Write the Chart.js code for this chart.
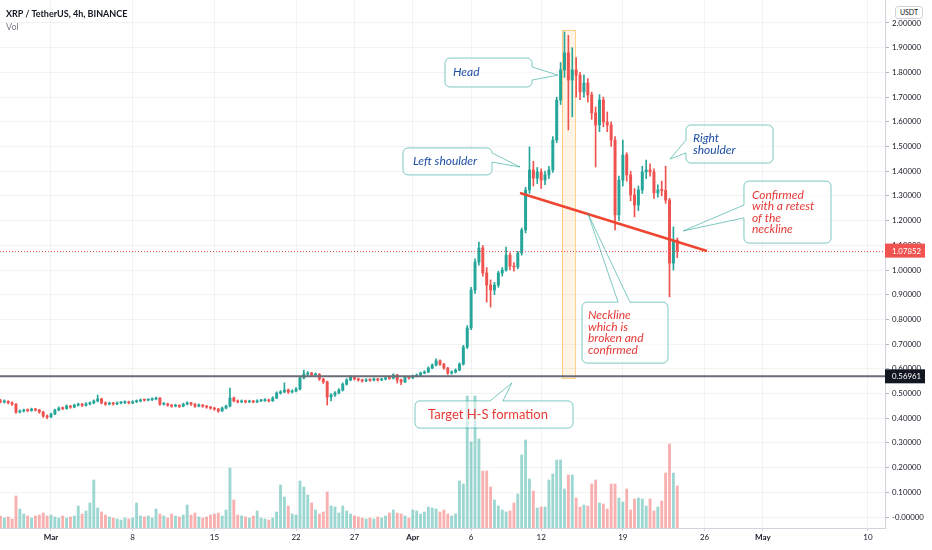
<!DOCTYPE html>
<html>
<head>
<meta charset="utf-8">
<title>XRP / TetherUS 4h</title>
<script src="https://cdn.jsdelivr.net/npm/chart.js@4.4.1/dist/chart.umd.min.js"></script>
<style>
    body { margin: 0; background: #fff; }
    #wrap { position: relative; width: 932px; height: 550px; }
    #title { position: absolute; left: 6px; top: 8px; font: bold 9px Lato, sans-serif; color: #131722; }
    #vol { position: absolute; left: 6px; top: 21px; font: 9px Lato, sans-serif; color: #787b86; }
    #unit {
        position: absolute; left: 895px; top: 6px; width: 26px; height: 11px;
        border: 1px solid #d1d4dc; border-radius: 3px; background: #fff;
        font: 7px Lato, sans-serif; color: #131722; text-align: center; line-height: 11px;
    }
</style>
</head>
<body>
<div id="wrap">
    <canvas id="chart" width="932" height="550"></canvas>
    <div id="title">XRP / TetherUS, 4h, BINANCE</div>
    <div id="vol">Vol</div>
    <div id="unit">USDT</div>
</div>
<script>
// candles: 8h steps, day 0 = 1 March
const firstCandleDay = -13 / 3;
const candleStepDays = 1 / 3;

const opens = [
    0.470, 0.466, 0.468, 0.462, 0.457, 0.425, 0.429, 0.433, 0.431, 0.437,
    0.433, 0.425, 0.409, 0.405, 0.417, 0.433, 0.441, 0.439, 0.449, 0.445,
    0.453, 0.457, 0.452, 0.458, 0.462, 0.470, 0.478, 0.462, 0.457, 0.461,
    0.458, 0.462, 0.463, 0.466, 0.462, 0.467, 0.470, 0.474, 0.473, 0.475,
    0.478, 0.482, 0.457, 0.458, 0.453, 0.449, 0.452, 0.448, 0.457, 0.462,
    0.457, 0.449, 0.453, 0.449, 0.445, 0.441, 0.437, 0.429, 0.441, 0.449,
    0.482, 0.470, 0.466, 0.470, 0.466, 0.469, 0.466, 0.470, 0.471, 0.474,
    0.470, 0.482, 0.502, 0.506, 0.514, 0.506, 0.510, 0.518, 0.563, 0.579,
    0.583, 0.575, 0.578, 0.559, 0.547, 0.486, 0.494, 0.502, 0.514, 0.538,
    0.555, 0.567, 0.559, 0.555, 0.551, 0.555, 0.554, 0.559, 0.555, 0.558,
    0.563, 0.562, 0.575, 0.555, 0.547, 0.567, 0.563, 0.571, 0.575, 0.583,
    0.587, 0.603, 0.615, 0.632, 0.619, 0.603, 0.583, 0.587, 0.595, 0.619,
    0.688, 0.765, 0.919, 1.032, 1.089, 0.988, 0.939, 0.919, 0.939, 0.988,
    1.000, 1.060, 1.016, 1.012, 1.069, 1.162, 1.324, 1.405, 1.372, 1.397,
    1.364, 1.385, 1.405, 1.526, 1.688, 1.810, 1.879, 1.769, 1.810, 1.789,
    1.721, 1.757, 1.709, 1.636, 1.587, 1.688, 1.599, 1.587, 1.526, 1.223,
    1.364, 1.466, 1.385, 1.304, 1.263, 1.324, 1.397, 1.405, 1.397, 1.312,
    1.324, 1.322, 1.283, 1.028, 1.121
];
const highs = [
    0.476, 0.474, 0.471, 0.466, 0.459, 0.434, 0.437, 0.438, 0.441, 0.440,
    0.436, 0.428, 0.414, 0.421, 0.437, 0.446, 0.445, 0.454, 0.452, 0.457,
    0.461, 0.460, 0.463, 0.466, 0.474, 0.494, 0.481, 0.466, 0.465, 0.464,
    0.466, 0.467, 0.470, 0.469, 0.471, 0.474, 0.478, 0.477, 0.479, 0.482,
    0.486, 0.484, 0.463, 0.461, 0.456, 0.457, 0.455, 0.461, 0.466, 0.464,
    0.459, 0.458, 0.456, 0.452, 0.448, 0.444, 0.440, 0.445, 0.453, 0.522,
    0.486, 0.474, 0.474, 0.473, 0.473, 0.472, 0.474, 0.476, 0.479, 0.477,
    0.487, 0.507, 0.512, 0.543, 0.518, 0.515, 0.524, 0.568, 0.595, 0.589,
    0.586, 0.583, 0.581, 0.562, 0.550, 0.500, 0.508, 0.520, 0.543, 0.560,
    0.573, 0.570, 0.563, 0.558, 0.560, 0.559, 0.563, 0.562, 0.562, 0.567,
    0.567, 0.580, 0.578, 0.558, 0.571, 0.570, 0.575, 0.579, 0.587, 0.592,
    0.608, 0.620, 0.640, 0.636, 0.622, 0.606, 0.592, 0.600, 0.624, 0.695,
    0.775, 0.930, 1.045, 1.113, 1.099, 1.010, 0.960, 0.950, 0.995, 1.010,
    1.093, 1.070, 1.030, 1.075, 1.170, 1.335, 1.498, 1.440, 1.415, 1.410,
    1.400, 1.420, 1.540, 1.700, 1.840, 1.964, 1.950, 1.900, 1.860, 1.800,
    1.790, 1.775, 1.720, 1.660, 1.710, 1.700, 1.640, 1.600, 1.540, 1.380,
    1.526, 1.475, 1.400, 1.330, 1.340, 1.420, 1.445, 1.430, 1.410, 1.345,
    1.360, 1.420, 1.290, 1.174, 1.130
];
const lows = [
    0.462, 0.461, 0.458, 0.452, 0.419, 0.421, 0.425, 0.426, 0.428, 0.429,
    0.420, 0.403, 0.398, 0.402, 0.414, 0.430, 0.434, 0.436, 0.440, 0.442,
    0.449, 0.447, 0.449, 0.454, 0.458, 0.466, 0.458, 0.452, 0.454, 0.453,
    0.455, 0.458, 0.459, 0.458, 0.459, 0.463, 0.466, 0.469, 0.470, 0.471,
    0.474, 0.452, 0.453, 0.448, 0.444, 0.446, 0.443, 0.446, 0.454, 0.452,
    0.444, 0.446, 0.444, 0.440, 0.436, 0.432, 0.424, 0.427, 0.438, 0.446,
    0.466, 0.462, 0.463, 0.462, 0.463, 0.462, 0.463, 0.467, 0.468, 0.466,
    0.468, 0.479, 0.497, 0.503, 0.500, 0.502, 0.506, 0.515, 0.559, 0.572,
    0.569, 0.571, 0.553, 0.540, 0.453, 0.470, 0.488, 0.498, 0.510, 0.534,
    0.551, 0.554, 0.550, 0.546, 0.548, 0.549, 0.551, 0.550, 0.552, 0.555,
    0.557, 0.559, 0.542, 0.536, 0.544, 0.558, 0.560, 0.567, 0.571, 0.580,
    0.584, 0.600, 0.612, 0.614, 0.598, 0.577, 0.578, 0.583, 0.592, 0.615,
    0.682, 0.758, 0.905, 1.020, 0.975, 0.870, 0.850, 0.900, 0.930, 0.975,
    0.995, 1.000, 0.995, 1.005, 1.060, 1.150, 1.310, 1.340, 1.350, 1.330,
    1.345, 1.370, 1.395, 1.515, 1.670, 1.780, 1.567, 1.620, 1.700, 1.690,
    1.700, 1.680, 1.610, 1.417, 1.560, 1.580, 1.560, 1.500, 1.162, 1.200,
    1.340, 1.360, 1.280, 1.215, 1.240, 1.310, 1.370, 1.380, 1.290, 1.295,
    1.300, 1.270, 0.891, 1.000, 1.050
];
const closes = [
    0.466, 0.468, 0.462, 0.457, 0.425, 0.429, 0.433, 0.431, 0.437, 0.433,
    0.425, 0.409, 0.405, 0.417, 0.433, 0.441, 0.439, 0.449, 0.445, 0.453,
    0.457, 0.452, 0.458, 0.462, 0.470, 0.478, 0.462, 0.457, 0.461, 0.458,
    0.462, 0.463, 0.466, 0.462, 0.467, 0.470, 0.474, 0.473, 0.475, 0.478,
    0.482, 0.457, 0.458, 0.453, 0.449, 0.452, 0.448, 0.457, 0.462, 0.457,
    0.449, 0.453, 0.449, 0.445, 0.441, 0.437, 0.429, 0.441, 0.449, 0.482,
    0.470, 0.466, 0.470, 0.466, 0.469, 0.466, 0.470, 0.471, 0.474, 0.470,
    0.482, 0.502, 0.506, 0.514, 0.506, 0.510, 0.518, 0.563, 0.579, 0.583,
    0.575, 0.578, 0.559, 0.547, 0.486, 0.494, 0.502, 0.514, 0.538, 0.555,
    0.567, 0.559, 0.555, 0.551, 0.555, 0.554, 0.559, 0.555, 0.558, 0.563,
    0.562, 0.575, 0.555, 0.547, 0.567, 0.563, 0.571, 0.575, 0.583, 0.587,
    0.603, 0.615, 0.632, 0.619, 0.603, 0.583, 0.587, 0.595, 0.619, 0.688,
    0.765, 0.919, 1.032, 1.089, 0.988, 0.939, 0.919, 0.939, 0.988, 1.000,
    1.060, 1.016, 1.012, 1.069, 1.162, 1.324, 1.405, 1.372, 1.397, 1.364,
    1.385, 1.405, 1.526, 1.688, 1.810, 1.879, 1.769, 1.810, 1.789, 1.721,
    1.757, 1.709, 1.636, 1.587, 1.688, 1.599, 1.587, 1.526, 1.223, 1.364,
    1.466, 1.385, 1.304, 1.263, 1.324, 1.397, 1.405, 1.397, 1.312, 1.324,
    1.322, 1.283, 1.028, 1.121, 1.07852
];
// volume, millions XRP (approx.)
const volumes = [
    12, 10, 11, 9, 32, 19, 14, 12, 10, 12,
    13, 15, 12, 13, 11, 10, 12, 10, 11, 12,
    22, 14, 17, 25, 48, 20, 16, 13, 11, 10,
    9, 8, 10, 9, 10, 25, 12, 11, 12, 10,
    19, 14, 12, 10, 14, 12, 11, 13, 23, 13,
    15, 11, 10, 11, 13, 14, 15, 12, 18, 60,
    28, 13, 12, 11, 10, 12, 17, 10, 9, 8,
    10, 16, 43, 31, 22, 14, 13, 47, 41, 33,
    25, 18, 14, 16, 36, 22, 21, 15, 22, 17,
    14, 12, 11, 10, 9, 10, 9, 11, 10, 12,
    15, 18, 15, 14, 12, 10, 18, 17, 14, 16,
    21, 20, 19, 16, 18, 14, 12, 14, 47, 44,
    132, 86, 132, 89, 57, 57, 41, 28, 22, 18,
    16, 17, 25, 34, 73, 88, 49, 37, 20, 21,
    21, 48, 54, 68, 68, 39, 53, 53, 30, 21,
    23, 22, 44, 48, 25, 24, 19, 44, 44, 30,
    26, 39, 18, 29, 30, 29, 22, 29, 17, 21,
    27, 55, 84, 55, 42
];

const xTickDays = [0, 7, 14, 21, 26, 31, 36, 42, 49, 56, 61, 70];
const xTickLabels = ['Mar', '8', '15', '22', '27', 'Apr', '6', '12', '19', '26', 'May', '10'];
const monthLabels = ['Mar', 'Apr', 'May'];
const priceTicks = [0, 0.1, 0.2, 0.3, 0.4, 0.5, 0.6, 0.7, 0.8, 0.9, 1.0,
    1.1, 1.2, 1.3, 1.4, 1.5, 1.6, 1.7, 1.8, 1.9, 2.0];

const lastPrice = 1.07852;
const targetLevel = 0.56961;

const UP = '#26a69a';
const DOWN = '#ef5350';
const BLUE_TXT = '#1e4fa6';
const RED_TXT = '#e53935';

const candleDays = closes.map((c, i) => firstCandleDay + i * candleStepDays);
const isUp = closes.map((c, i) => c >= opens[i]);

// drawings, in chart coordinates (day, price)
const headBand = { x0: 43.79, y0: 1.972, x1: 44.90, y1: 0.563 };
const neckline = { x0: 40.19, y0: 1.312, x1: 56.21, y1: 1.077 };
const callouts = [
    { lines: ['Head'], color: BLUE_TXT, box: [33.76, 1.858, 41.22, 1.741], side: 'right', base: [1.822, 1.769], tip: [43.44, 1.789], pad: 8, font: 'italic 12px Lato' },
    { lines: ['Left shoulder'], color: BLUE_TXT, box: [30.16, 1.494, 37.79, 1.385], side: 'right', base: [1.474, 1.437], tip: [40.19, 1.417], pad: 10, font: 'italic 12px Lato' },
    { lines: ['Right', 'shoulder'], color: BLUE_TXT, box: [54.41, 1.587, 61.87, 1.433], side: 'left', base: [1.526, 1.474], tip: [53.04, 1.449], pad: 7, font: 'italic 12px Lato' },
    { lines: ['Confirmed', 'with a retest', 'of the', 'neckline'], color: RED_TXT, box: [59.38, 1.360, 66.84, 1.109], side: 'left', base: [1.263, 1.211], tip: [54.16, 1.158], pad: 8, font: 'italic 12px Lato' },
    { lines: ['Neckline', 'which is', 'broken and', 'confirmed'], color: RED_TXT, box: [45.50, 0.870, 52.87, 0.623], side: 'top', base: [48.59, 49.61], tip: [46.02, 1.227], pad: 6, font: 'italic 12px Lato' },
    { lines: ['Target H-S formation'], color: RED_TXT, box: [31.19, 0.470, 44.73, 0.360], side: 'top', base: [37.62, 38.73], tip: [39.50, 0.543], pad: 13, font: '13px Lato' },
];

function calloutPath(ctx, x0, y0, x1, y1, side, b1, b2, tx, ty) {
    const r = 5;
    ctx.beginPath();
    ctx.moveTo(x0 + r, y0);
    if (side === 'top') {
        ctx.lineTo(b1, y0);
        ctx.lineTo(tx, ty);
        ctx.lineTo(b2, y0);
    }
    ctx.lineTo(x1 - r, y0);
    ctx.arcTo(x1, y0, x1, y0 + r, r);
    if (side === 'right') {
        ctx.lineTo(x1, b1);
        ctx.lineTo(tx, ty);
        ctx.lineTo(x1, b2);
    }
    ctx.lineTo(x1, y1 - r);
    ctx.arcTo(x1, y1, x1 - r, y1, r);
    ctx.lineTo(x0 + r, y1);
    ctx.arcTo(x0, y1, x0, y1 - r, r);
    if (side === 'left') {
        ctx.lineTo(x0, b2);
        ctx.lineTo(tx, ty);
        ctx.lineTo(x0, b1);
    }
    ctx.lineTo(x0, y0 + r);
    ctx.arcTo(x0, y0, x0 + r, y0, r);
    ctx.closePath();
}

const drawings = {
    id: 'drawings',
    beforeDatasetsDraw(chart) {
        const { ctx, scales: { x, y } } = chart;
        ctx.save();
        const bx0 = x.getPixelForValue(headBand.x0), bx1 = x.getPixelForValue(headBand.x1);
        const by0 = y.getPixelForValue(headBand.y0), by1 = y.getPixelForValue(headBand.y1);
        ctx.fillStyle = 'rgba(255, 152, 0, 0.10)';
        ctx.strokeStyle = 'rgba(255, 152, 0, 0.45)';
        ctx.lineWidth = 1;
        ctx.fillRect(bx0, by0, bx1 - bx0, by1 - by0);
        ctx.strokeRect(bx0 + 0.5, by0 + 0.5, bx1 - bx0, by1 - by0);
        ctx.restore();
    },
    afterDatasetsDraw(chart) {
        const { ctx, chartArea: area, scales: { x, y } } = chart;
        ctx.save();
        ctx.beginPath();
        ctx.rect(area.left, area.top, area.right - area.left, area.bottom - area.top);
        ctx.clip();

        // last price, dotted
        const lp = Math.round(y.getPixelForValue(lastPrice)) + 0.5;
        ctx.strokeStyle = DOWN;
        ctx.lineWidth = 1;
        ctx.setLineDash([1, 2]);
        ctx.beginPath();
        ctx.moveTo(area.left, lp);
        ctx.lineTo(area.right, lp);
        ctx.stroke();
        ctx.setLineDash([]);

        // target level
        const tl = y.getPixelForValue(targetLevel);
        ctx.strokeStyle = '#6a6d78';
        ctx.lineWidth = 2;
        ctx.beginPath();
        ctx.moveTo(area.left, tl);
        ctx.lineTo(area.right, tl);
        ctx.stroke();

        // neckline
        ctx.strokeStyle = '#ef4632';
        ctx.lineWidth = 2.5;
        ctx.beginPath();
        ctx.moveTo(x.getPixelForValue(neckline.x0), y.getPixelForValue(neckline.y0));
        ctx.lineTo(x.getPixelForValue(neckline.x1), y.getPixelForValue(neckline.y1));
        ctx.stroke();

        // callouts
        callouts.forEach(c => {
            const x0 = x.getPixelForValue(c.box[0]), y0 = y.getPixelForValue(c.box[1]);
            const x1 = x.getPixelForValue(c.box[2]), y1 = y.getPixelForValue(c.box[3]);
            const tx = x.getPixelForValue(c.tip[0]), ty = y.getPixelForValue(c.tip[1]);
            let b1, b2;
            if (c.side === 'top') {
                b1 = x.getPixelForValue(c.base[0]);
                b2 = x.getPixelForValue(c.base[1]);
            } else {
                b1 = y.getPixelForValue(c.base[0]);
                b2 = y.getPixelForValue(c.base[1]);
            }
            calloutPath(ctx, x0, y0, x1, y1, c.side, b1, b2, tx, ty);
            ctx.fillStyle = 'rgba(255, 255, 255, 0.55)';
            ctx.fill();
            ctx.strokeStyle = 'rgba(38, 166, 154, 0.6)';
            ctx.lineWidth = 1;
            ctx.stroke();

            ctx.fillStyle = c.color;
            ctx.font = c.font + ', sans-serif';
            ctx.textBaseline = 'middle';
            ctx.textAlign = 'left';
            const lh = 11.6;
            const cy = (y0 + y1) / 2 - (c.lines.length - 1) * lh / 2;
            c.lines.forEach((t, i) => ctx.fillText(t, x0 + c.pad, cy + i * lh));
        });
        ctx.restore();
    },
    afterDraw(chart) {
        const { ctx, chartArea: area, scales: { y } } = chart;
        ctx.save();
        const tags = [
            { v: lastPrice, bg: '#f05350' },
            { v: targetLevel, bg: '#131722' },
        ];
        tags.forEach(t => {
            const py = y.getPixelForValue(t.v);
            ctx.fillStyle = t.bg;
            ctx.fillRect(area.right, py - 7, 40, 14);
            ctx.fillStyle = '#fff';
            ctx.font = '7.8px Lato, sans-serif';
            ctx.textBaseline = 'middle';
            ctx.textAlign = 'left';
            ctx.fillText(t.v.toFixed(5), area.right + 7, py + 0.5);
        });
        ctx.restore();
    }
};

new Chart(document.getElementById('chart'), {
    type: 'bar',
    data: {
        datasets: [
            {
                label: 'body',
                order: 1,
                yAxisID: 'y',
                data: candleDays.map((d, i) => ({ x: d, y: [opens[i], closes[i]] })),
                backgroundColor: isUp.map(u => u ? UP : DOWN),
                barThickness: 2.3,
                minBarLength: 1,
                grouped: false
            },
            {
                label: 'wick',
                order: 2,
                yAxisID: 'y',
                data: candleDays.map((d, i) => ({ x: d, y: [lows[i], highs[i]] })),
                backgroundColor: isUp.map(u => u ? UP : DOWN),
                barThickness: 1,
                grouped: false
            },
            {
                label: 'Vol',
                order: 3,
                yAxisID: 'yv',
                data: candleDays.map((d, i) => ({ x: d, y: volumes[i] })),
                backgroundColor: isUp.map(u => u ? 'rgba(38, 166, 154, 0.45)' : 'rgba(239, 83, 80, 0.45)'),
                barThickness: 2.2,
                grouped: false
            }
        ]
    },
    options: {
        responsive: false,
        animation: false,
        layout: { padding: 0 },
        plugins: {
            legend: { display: false },
            tooltip: { enabled: false }
        },
        scales: {
            x: {
                type: 'linear',
                offset: false,
                min: -4.37,
                max: 71.465,
                afterBuildTicks: s => { s.ticks = xTickDays.map(v => ({ value: v })); },
                afterFit: s => { s.height = 22; s.paddingLeft = 0; s.paddingRight = 0; },
                ticks: {
                    autoSkip: false,
                    maxRotation: 0,
                    padding: 2,
                    color: '#131722',
                    callback: (v, i) => xTickLabels[i],
                    font: ctx => ({
                        family: 'Lato',
                        size: 8,
                        weight: monthLabels.includes(xTickLabels[ctx.index]) ? 'bold' : 'normal'
                    })
                },
                grid: { offset: false, color: 'rgba(42, 46, 57, 0.06)', tickLength: 3, tickColor: '#d1d4dc' },
                border: { color: '#d1d4dc' }
            },
            y: {
                type: 'linear',
                position: 'right',
                min: -0.0445,
                max: 2.0931,
                afterBuildTicks: s => { s.ticks = priceTicks.map(v => ({ value: v })); },
                afterFit: s => { s.width = 47; s.paddingTop = 0; s.paddingBottom = 0; },
                ticks: {
                    padding: 3,
                    color: '#131722',
                    font: { family: 'Lato', size: 7.8 },
                    callback: v => v === 0 ? '-0.00000' : v.toFixed(5)
                },
                grid: { color: 'rgba(42, 46, 57, 0.06)', tickLength: 4, tickColor: '#b2b5be' },
                border: { color: '#d1d4dc' }
            },
            yv: {
                display: false,
                min: 0,
                max: 528
            }
        }
    },
    plugins: [drawings]
});
</script>
</body>
</html>
